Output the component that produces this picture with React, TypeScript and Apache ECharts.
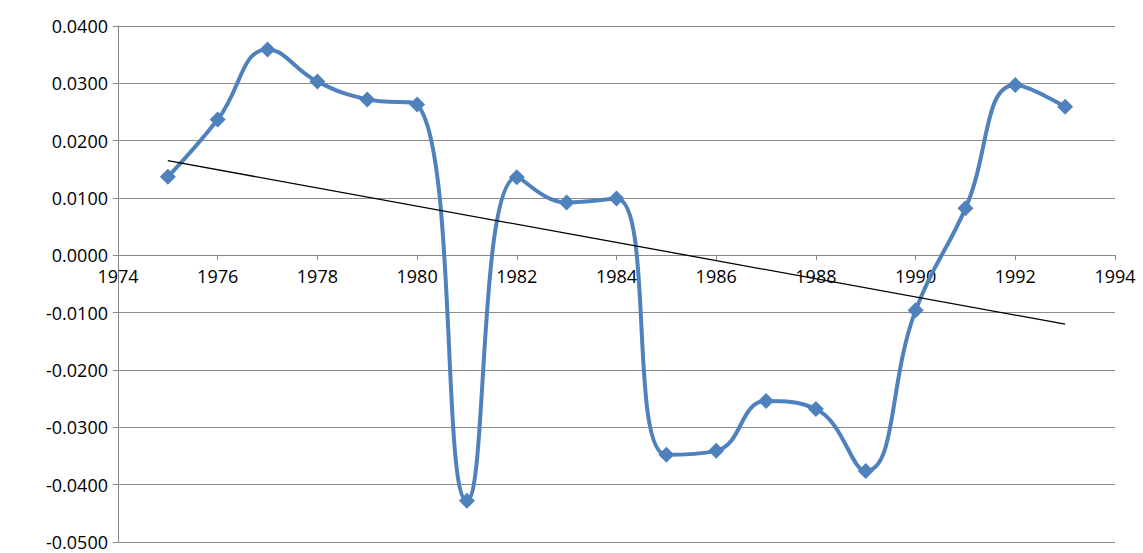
import { useEffect, useRef } from "react";
import * as echarts from "echarts";

const years = [1975, 1976, 1977, 1978, 1979, 1980, 1981, 1982, 1983, 1984, 1985, 1986, 1987, 1988, 1989, 1990, 1991, 1992, 1993];
const values = [0.0137, 0.0237, 0.0359, 0.0303, 0.0272, 0.0263, -0.0428, 0.0136, 0.0092, 0.0099, -0.0348, -0.0341, -0.0254, -0.0268, -0.0376, -0.0096, 0.0082, 0.0297, 0.0259];
const trendYears = [1975, 1993];
const trendValues = [0.0165, -0.0120];

const yMin = -0.05;
const yMax = 0.04;
const gridTop = 26;
const gridBottom = 11;
const chartH = 553;

export default function App() {
  const ref = useRef<HTMLDivElement | null>(null);

  useEffect(() => {
    document.body.style.margin = "0";
    if (!ref.current) return;
    const chart = echarts.init(ref.current, undefined, { renderer: "svg" });
    const font = { fontFamily: "Open Sans", fontSize: 18, color: "#000" };
    const plotH = chartH - gridTop - gridBottom;
    const zeroFromBottom = (-yMin / (yMax - yMin)) * plotH;
    chart.setOption({
      animation: false,
      grid: { left: 118, right: 28, top: gridTop, bottom: gridBottom, outerBoundsMode: "none", containLabel: false },
      xAxis: {
        type: "value",
        min: 1974,
        max: 1994,
        interval: 2,
        position: "bottom",
        offset: -zeroFromBottom,
        axisLine: { onZero: false, lineStyle: { color: "#888" } },
        axisTick: { show: true, length: 5, lineStyle: { color: "#888" } },
        axisLabel: { ...font, margin: 12, formatter: (v: number) => String(v) },
        splitLine: { show: false },
      },
      yAxis: {
        type: "value",
        min: yMin,
        max: yMax,
        interval: 0.01,
        axisLine: { show: true, lineStyle: { color: "#888" } },
        axisTick: { show: true, length: 5, lineStyle: { color: "#888" } },
        axisLabel: { ...font, margin: 10, formatter: (v: number) => v.toFixed(4) },
        splitLine: { lineStyle: { color: "#8c8c8c" } },
      },
      series: [
        {
          type: "line",
          data: years.map((y, i) => [y, values[i]]),
          smooth: 0.45,
          symbol: "diamond",
          symbolSize: 16,
          lineStyle: { color: "#4F81BD", width: 4 },
          itemStyle: { color: "#4F81BD" },
          z: 3,
        },
        {
          type: "line",
          data: trendYears.map((y, i) => [y, trendValues[i]]),
          symbol: "none",
          lineStyle: { color: "#000", width: 1.3 },
          z: 4,
        },
      ],
    });
    return () => chart.dispose();
  }, []);

  return <div ref={ref} style={{ width: 1143, height: 553 }} />;
}
